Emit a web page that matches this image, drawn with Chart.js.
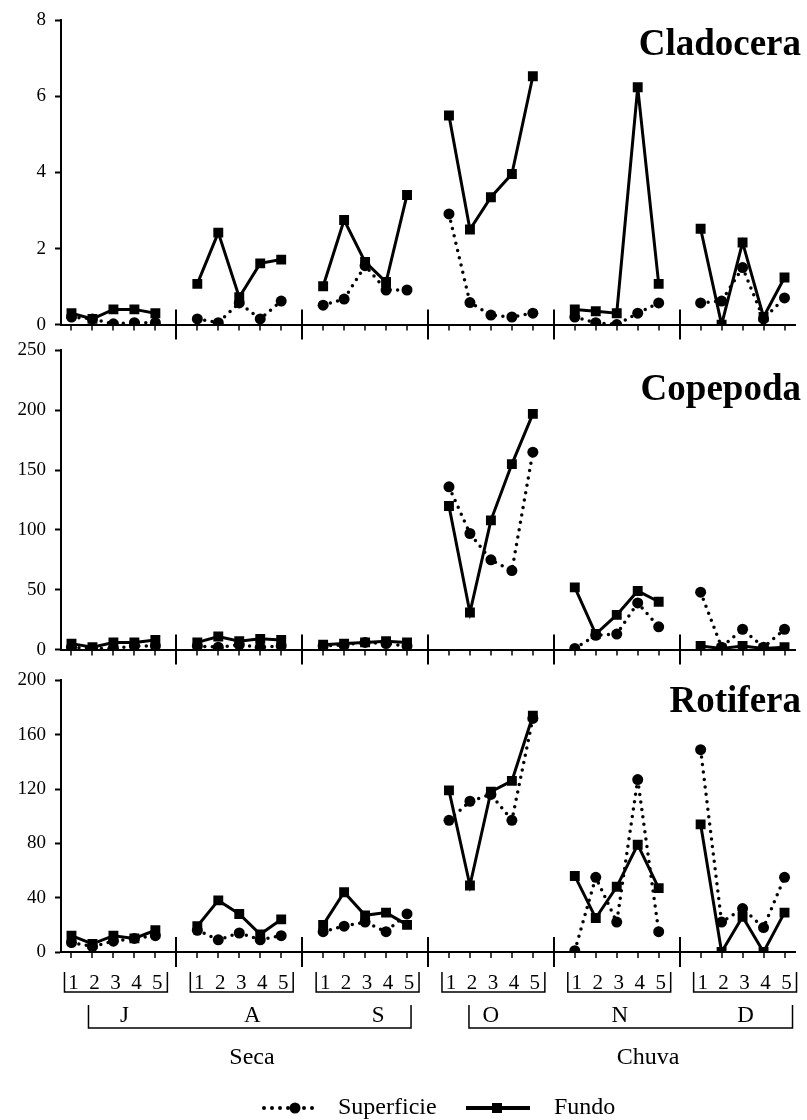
<!DOCTYPE html>
<html><head><meta charset="utf-8">
<script src="https://cdn.jsdelivr.net/npm/chart.js@4"></script>
<style>
body{margin:0;background:#fff;width:807px;height:1120px;position:relative;overflow:hidden}
canvas{position:absolute;left:0}
</style></head>
<body>
<canvas id="c1" width="807" height="345" style="top:0px"></canvas>
<canvas id="c2" width="807" height="340" style="top:330px"></canvas>
<canvas id="c3" width="807" height="460" style="top:660px"></canvas>
<script>
// ---- data ----
const months = ['J','A','S','O','N','D'];
const samples = ['1','2','3','4','5'];
const seasons = ['Seca','Chuva'];
const seriesNames = ['Superficie','Fundo'];
const taxa = ['Cladocera','Copepoda','Rotifera'];

const claSup = [0.2,0.15,0.02,0.05,0.05, 0.15,0.05,0.57,0.15,0.62, 0.51,0.67,1.55,0.91,0.91, 2.91,0.58,0.25,0.2,0.3, 0.2,0.05,0.0,0.3,0.57, 0.57,0.62,1.5,0.15,0.7];
const claFun = [0.3,0.15,0.4,0.4,0.3, 1.07,2.42,0.72,1.61,1.71, 1.01,2.75,1.65,1.12,3.41, 5.5,2.5,3.35,3.96,6.53, 0.4,0.35,0.3,6.24,1.07, 2.52,0.0,2.16,0.2,1.24];
const copSup = [2,1,1,3,3, 3,2,4,2,3, 3,4,6,5,3, 136,97,75,66,165, 1,12,13,39,19, 48,2,17,2,17];
const copFun = [5,2,6,6,8, 6,11,7,9,8, 4,5,6,7,6, 120,31,108,155,197, 52,13,29,49,40, 3,1,3,1,2];
const rotSup = [7,4,8,10,12, 16,9,14,9,12, 15,19,22,15,28, 97,111,116,97,172, 1,55,22,127,15, 149,22,32,18,55];
const rotFun = [12,6,12,10,16, 19,38,28,13,24, 20,44,27,29,20, 119,49,118,126,174, 56,25,48,79,47, 94,0,26,0,29];

const claTicks = {max:8, step:2};
const copTicks = {max:250, step:50};
const rotTicks = {max:200, step:40};

// ---- helpers ----
const FONT = "'Liberation Serif','Times New Roman',serif";
function expand(vals){
  const out=[];
  for(let m=0;m<months.length;m++){
    for(let s=0;s<samples.length;s++) out.push(vals[m*samples.length+s]);
    if(m<months.length-1) out.push(null);
  }
  return out;
}
const slotLabels = expand(months.flatMap(m=>samples.map(s=>m+s))).map(v=>v===null?'':v);
const slotSample = expand(months.flatMap(m=>samples));

function line(ctx,x1,y1,x2,y2){ctx.beginPath();ctx.moveTo(x1,y1);ctx.lineTo(x2,y2);ctx.stroke();}

function decor(title, titleBaseline, bottomFn){
  return {
    id:'decor',
    afterDraw(chart){
      const ctx=chart.ctx, xs=chart.scales.x, ys=chart.scales.y;
      const y0=ys.getPixelForValue(0);
      ctx.save();
      ctx.strokeStyle='#000';
      for(let i=0;i<slotLabels.length;i++){
        const px=Math.round(xs.getPixelForValue(i));
        if(slotLabels[i]===''){ ctx.lineWidth=2; line(ctx,px,y0-15,px,y0+15); }
        else { ctx.lineWidth=1.5; line(ctx,px,y0,px,y0+6); }
      }
      ctx.fillStyle='#000';
      ctx.font='bold 37px '+FONT;
      ctx.textAlign='right'; ctx.textBaseline='alphabetic';
      ctx.fillText(title, 801, titleBaseline);
      if(bottomFn) bottomFn(chart, ctx, xs, y0);
      ctx.restore();
    }
  };
}

function bottomLabels(chart, ctx, xs, y0){
  const letterOffsets=[11,13,13,0,3,3];
  ctx.fillStyle='#000'; ctx.strokeStyle='#000';
  // sample numbers and small brackets
  ctx.font='21px '+FONT; ctx.textAlign='center'; ctx.textBaseline='middle';
  for(let m=0;m<months.length;m++){
    const first=m*6, last=m*6+4;
    for(let s=0;s<5;s++){
      const i=first+s;
      ctx.fillText(slotSample[i], xs.getPixelForValue(i)+2, y0+31);
    }
    const a=xs.getPixelForValue(first)-7, b=xs.getPixelForValue(last)+12;
    ctx.lineWidth=1.5;
    ctx.beginPath(); ctx.moveTo(a,y0+20); ctx.lineTo(a,y0+40); ctx.lineTo(b,y0+40); ctx.lineTo(b,y0+20); ctx.stroke();
    // month letters
    ctx.font='23px '+FONT;
    ctx.fillText(months[m], xs.getPixelForValue(m*6+2)+letterOffsets[m], y0+64);
    ctx.font='21px '+FONT;
  }
  // season brackets
  const seasonDefs=[
    {label:seasons[0], a:xs.getPixelForValue(0)+17, b:xs.getPixelForValue(16)+4, tx:252},
    {label:seasons[1], a:xs.getPixelForValue(18)+20, b:xs.getPixelForValue(34)+8, tx:648}
  ];
  ctx.lineWidth=1.5;
  seasonDefs.forEach(d=>{
    ctx.beginPath(); ctx.moveTo(d.a,y0+53); ctx.lineTo(d.a,y0+76); ctx.lineTo(d.b,y0+76); ctx.lineTo(d.b,y0+53); ctx.stroke();
    ctx.font='24px '+FONT; ctx.textAlign='center';
    ctx.fillText(d.label, d.tx, y0+106);
  });
  // legend
  const ly=y0+156;
  ctx.save();
  ctx.lineWidth=4; ctx.lineCap='round'; ctx.setLineDash([0,8]);
  line(ctx,264,ly,318,ly);
  ctx.restore();
  ctx.beginPath(); ctx.arc(295,ly,5.5,0,Math.PI*2); ctx.fill();
  ctx.font='24px '+FONT; ctx.textAlign='left'; ctx.textBaseline='middle';
  ctx.fillText(seriesNames[0], 338, ly);
  ctx.lineWidth=4; ctx.lineCap='butt';
  line(ctx,466,ly,530,ly);
  ctx.fillRect(492,ly-5,10,10);
  ctx.fillText(seriesNames[1], 554, ly);
}

function makeChart(id, sup, fun, tk, title, titleBaseline, padTop, xHeight, bottomFn){
  return new Chart(document.getElementById(id), {
    type:'line',
    data:{
      labels: slotLabels,
      datasets:[
        {label:seriesNames[0], data:expand(sup), borderColor:'#000', backgroundColor:'#000',
         borderWidth:3.5, borderDash:[0,7.5], borderCapStyle:'round',
         pointStyle:'circle', pointRadius:5.5, pointBorderWidth:0, pointBackgroundColor:'#000',
         spanGaps:false, tension:0, order:2},
        {label:seriesNames[1], data:expand(fun), borderColor:'#000', backgroundColor:'#000',
         borderWidth:3, pointStyle:'rect', pointRadius:7, pointBorderWidth:0, pointBackgroundColor:'#000',
         spanGaps:false, tension:0, order:1}
      ]
    },
    options:{
      responsive:false, animation:false, events:[],
      layout:{padding:{top:padTop, right:12, left:0, bottom:0}},
      plugins:{legend:{display:false}, tooltip:{enabled:false}},
      scales:{
        x:{type:'category', offset:true,
           ticks:{display:false},
           grid:{display:true, drawOnChartArea:false, drawTicks:false},
           border:{display:true, color:'#000', width:2},
           afterFit:s=>{s.height=xHeight;}},
        y:{min:0, max:tk.max,
           ticks:{stepSize:tk.step, color:'#000', padding:9, font:{family:FONT, size:19}},
           grid:{display:true, drawOnChartArea:false, drawTicks:true, tickLength:6, tickColor:'#000', tickWidth:2},
           border:{display:true, color:'#000', width:2},
           afterFit:s=>{s.width=61;}}
      }
    },
    plugins:[decor(title, titleBaseline, bottomFn)]
  });
}

makeChart('c1', claSup, claFun, claTicks, taxa[0], 55, 18, 20, null);
makeChart('c2', copSup, copFun, copTicks, taxa[1], 70, 19, 16, null);
makeChart('c3', rotSup, rotFun, rotTicks, taxa[2], 52, 17, 168, bottomLabels);
</script>
</body></html>
